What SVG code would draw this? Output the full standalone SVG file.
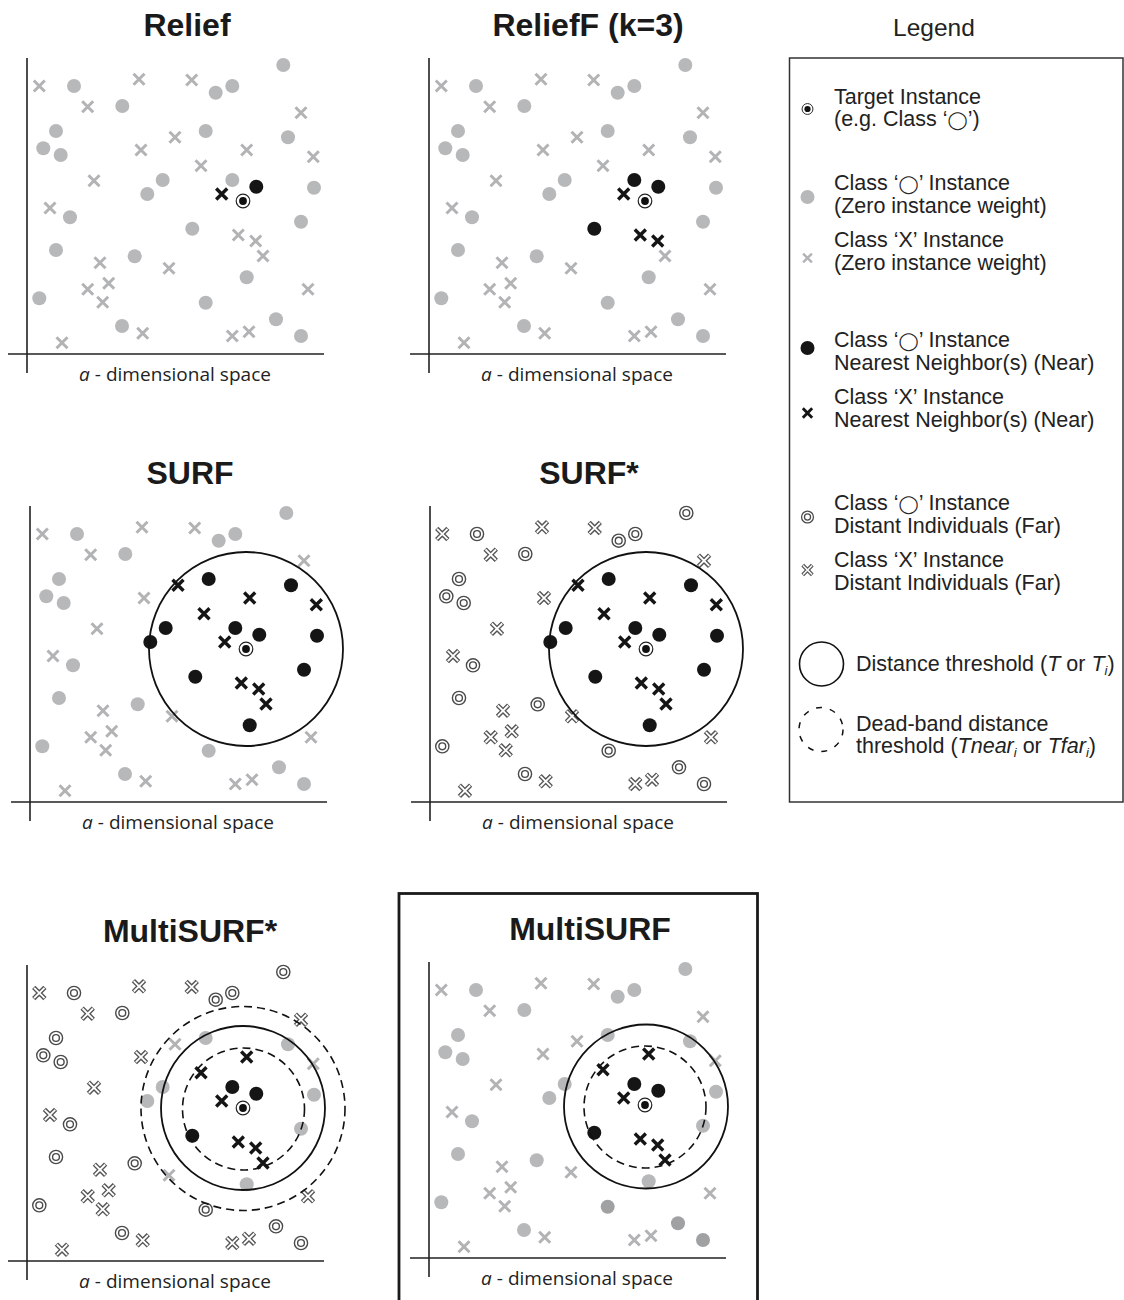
<svg xmlns="http://www.w3.org/2000/svg" xmlns:xlink="http://www.w3.org/1999/xlink" width="1124" height="1300" viewBox="0 0 1124 1300">
<style>
.title{font-family:"Liberation Sans",Arial,sans-serif;font-weight:bold;font-size:32px;text-anchor:middle;fill:#1a1a1a}
.axlab{font-family:"Open Sans","Noto Sans",sans-serif;font-size:19px;text-anchor:middle;fill:#222}
.leg{font-family:"Liberation Sans",Arial,"DejaVu Sans",sans-serif;font-size:21.5px;fill:#222}
.o{font-size:18px}
.legh{font-family:"Liberation Sans",Arial,sans-serif;font-size:24.5px;text-anchor:middle;fill:#222}
.axis{stroke:#222;stroke-width:1.6;fill:none}
.thr{fill:none;stroke:#111;stroke-width:1.8}
.dash{fill:none;stroke:#111;stroke-width:1.6;stroke-dasharray:8 5}
</style>
<defs>
<circle id="gc" r="7" fill="#b7b8b9"/>
<circle id="dc" r="7" fill="#a0a1a2"/>
<circle id="bc" r="7" fill="#151515"/>
<path id="gx" d="M-5.5,-5.5L5.5,5.5M5.5,-5.5L-5.5,5.5" stroke="#b2b3b4" stroke-width="3" fill="none"/>
<path id="bx" d="M-5.5,-5.5L5.5,5.5M5.5,-5.5L-5.5,5.5" stroke="#151515" stroke-width="3.4" fill="none"/>
<g id="fc"><circle r="6.6" fill="#fff" stroke="#4a4a4a" stroke-width="1.4"/><circle r="3.4" fill="none" stroke="#4a4a4a" stroke-width="1.4"/></g>
<g id="fx"><path d="M-5.6,-5.6L5.6,5.6M5.6,-5.6L-5.6,5.6" stroke="#555" stroke-width="4.6" fill="none"/><path d="M-5.2,-5.2L5.2,5.2M5.2,-5.2L-5.2,5.2" stroke="#fff" stroke-width="1.8" fill="none"/></g>
<g id="tg"><circle r="6.8" fill="#fff" stroke="#222" stroke-width="1.2"/><circle r="3.9" fill="#111"/></g>
<g id="axes"><path class="axis" d="M27,58V373M8,354H324"/><text class="axlab" x="175" y="381" textLength="192"><tspan font-style="italic">a</tspan> - dimensional space</text></g>
</defs>

<!-- Panel 1: Relief -->
<g id="relief">
<text class="title" x="187" y="36">Relief</text>
<g transform="translate(0,0)">
<use href="#axes"/>
<use href="#gc" x="283.3" y="65"/><use href="#gc" x="74" y="86"/><use href="#gc" x="215.7" y="92.7"/><use href="#gc" x="232.3" y="86"/><use href="#gc" x="122.3" y="106"/><use href="#gc" x="56" y="131"/><use href="#gc" x="43.3" y="148.3"/><use href="#gc" x="60.7" y="155"/><use href="#gc" x="205.7" y="131"/><use href="#gc" x="288" y="137.3"/><use href="#gc" x="162.7" y="180"/><use href="#gc" x="147.3" y="194"/><use href="#gc" x="232.3" y="180"/><use href="#gc" x="314" y="187.7"/><use href="#gc" x="70" y="217.3"/><use href="#gc" x="301" y="221.7"/><use href="#gc" x="192.3" y="228.7"/><use href="#gc" x="56" y="250"/><use href="#gc" x="134.7" y="256.3"/><use href="#gc" x="246.7" y="277.3"/><use href="#gc" x="39.3" y="298.3"/><use href="#gc" x="205.7" y="302.7"/><use href="#gc" x="276" y="319.3"/><use href="#gc" x="122" y="326"/><use href="#gc" x="301" y="336"/><use href="#bc" x="256.3" y="186.7"/>
<use href="#gx" x="39.3" y="86"/><use href="#gx" x="139" y="79.3"/><use href="#gx" x="191.7" y="80"/><use href="#gx" x="87.7" y="106.7"/><use href="#gx" x="301" y="112.7"/><use href="#gx" x="175" y="137.3"/><use href="#gx" x="141" y="150"/><use href="#gx" x="246.7" y="150"/><use href="#gx" x="313.3" y="156.7"/><use href="#gx" x="201" y="165.7"/><use href="#gx" x="94" y="180.7"/><use href="#gx" x="50" y="208"/><use href="#gx" x="238.3" y="235"/><use href="#gx" x="255.7" y="241"/><use href="#gx" x="263" y="256"/><use href="#gx" x="100" y="262.7"/><use href="#gx" x="169" y="268.3"/><use href="#gx" x="108.7" y="283.3"/><use href="#gx" x="87.7" y="289.3"/><use href="#gx" x="102.7" y="302.3"/><use href="#gx" x="308" y="289.3"/><use href="#gx" x="142.7" y="333.3"/><use href="#gx" x="232.3" y="336"/><use href="#gx" x="249" y="331.7"/><use href="#gx" x="62" y="342.7"/><use href="#bx" x="221.7" y="194"/>
<use href="#tg" x="243" y="201"/>
</g>
</g>

<!-- Panel 2: ReliefF -->
<g id="relieff">
<text class="title" x="588" y="36">ReliefF (k=3)</text>
<g transform="translate(402,0)">
<use href="#axes"/>
<use href="#gc" x="283.3" y="65"/><use href="#gc" x="74" y="86"/><use href="#gc" x="215.7" y="92.7"/><use href="#gc" x="232.3" y="86"/><use href="#gc" x="122.3" y="106"/><use href="#gc" x="56" y="131"/><use href="#gc" x="43.3" y="148.3"/><use href="#gc" x="60.7" y="155"/><use href="#gc" x="205.7" y="131"/><use href="#gc" x="288" y="137.3"/><use href="#gc" x="162.7" y="180"/><use href="#gc" x="147.3" y="194"/><use href="#bc" x="232.3" y="180"/><use href="#gc" x="314" y="187.7"/><use href="#gc" x="70" y="217.3"/><use href="#gc" x="301" y="221.7"/><use href="#bc" x="192.3" y="228.7"/><use href="#gc" x="56" y="250"/><use href="#gc" x="134.7" y="256.3"/><use href="#gc" x="246.7" y="277.3"/><use href="#gc" x="39.3" y="298.3"/><use href="#gc" x="205.7" y="302.7"/><use href="#gc" x="276" y="319.3"/><use href="#gc" x="122" y="326"/><use href="#gc" x="301" y="336"/><use href="#bc" x="256.3" y="186.7"/>
<use href="#gx" x="39.3" y="86"/><use href="#gx" x="139" y="79.3"/><use href="#gx" x="191.7" y="80"/><use href="#gx" x="87.7" y="106.7"/><use href="#gx" x="301" y="112.7"/><use href="#gx" x="175" y="137.3"/><use href="#gx" x="141" y="150"/><use href="#gx" x="246.7" y="150"/><use href="#gx" x="313.3" y="156.7"/><use href="#gx" x="201" y="165.7"/><use href="#gx" x="94" y="180.7"/><use href="#gx" x="50" y="208"/><use href="#bx" x="238.3" y="235"/><use href="#bx" x="255.7" y="241"/><use href="#gx" x="263" y="256"/><use href="#gx" x="100" y="262.7"/><use href="#gx" x="169" y="268.3"/><use href="#gx" x="108.7" y="283.3"/><use href="#gx" x="87.7" y="289.3"/><use href="#gx" x="102.7" y="302.3"/><use href="#gx" x="308" y="289.3"/><use href="#gx" x="142.7" y="333.3"/><use href="#gx" x="232.3" y="336"/><use href="#gx" x="249" y="331.7"/><use href="#gx" x="62" y="342.7"/><use href="#bx" x="221.7" y="194"/>
<use href="#tg" x="243" y="201"/>
</g>
</g>

<!-- Panel 3: SURF -->
<g id="surf">
<text class="title" x="190" y="484">SURF</text>
<g transform="translate(3,448)">
<use href="#axes"/>
<use href="#gc" x="283.3" y="65"/><use href="#gc" x="74" y="86"/><use href="#gc" x="215.7" y="92.7"/><use href="#gc" x="232.3" y="86"/><use href="#gc" x="122.3" y="106"/><use href="#gc" x="56" y="131"/><use href="#gc" x="43.3" y="148.3"/><use href="#gc" x="60.7" y="155"/><use href="#bc" x="205.7" y="131"/><use href="#bc" x="288" y="137.3"/><use href="#bc" x="162.7" y="180"/><use href="#bc" x="147.3" y="194"/><use href="#bc" x="232.3" y="180"/><use href="#bc" x="314" y="187.7"/><use href="#gc" x="70" y="217.3"/><use href="#bc" x="301" y="221.7"/><use href="#bc" x="192.3" y="228.7"/><use href="#gc" x="56" y="250"/><use href="#gc" x="134.7" y="256.3"/><use href="#bc" x="246.7" y="277.3"/><use href="#gc" x="39.3" y="298.3"/><use href="#gc" x="205.7" y="302.7"/><use href="#gc" x="276" y="319.3"/><use href="#gc" x="122" y="326"/><use href="#gc" x="301" y="336"/><use href="#bc" x="256.3" y="186.7"/>
<use href="#gx" x="39.3" y="86"/><use href="#gx" x="139" y="79.3"/><use href="#gx" x="191.7" y="80"/><use href="#gx" x="87.7" y="106.7"/><use href="#gx" x="301" y="112.7"/><use href="#bx" x="175" y="137.3"/><use href="#gx" x="141" y="150"/><use href="#bx" x="246.7" y="150"/><use href="#bx" x="313.3" y="156.7"/><use href="#bx" x="201" y="165.7"/><use href="#gx" x="94" y="180.7"/><use href="#gx" x="50" y="208"/><use href="#bx" x="238.3" y="235"/><use href="#bx" x="255.7" y="241"/><use href="#bx" x="263" y="256"/><use href="#gx" x="100" y="262.7"/><use href="#gx" x="169" y="268.3"/><use href="#gx" x="108.7" y="283.3"/><use href="#gx" x="87.7" y="289.3"/><use href="#gx" x="102.7" y="302.3"/><use href="#gx" x="308" y="289.3"/><use href="#gx" x="142.7" y="333.3"/><use href="#gx" x="232.3" y="336"/><use href="#gx" x="249" y="331.7"/><use href="#gx" x="62" y="342.7"/><use href="#bx" x="221.7" y="194"/>
<use href="#tg" x="243" y="201"/>
<circle class="thr" cx="243" cy="201" r="97"/>
</g>
</g>

<!-- Panel 4: SURF* -->
<g id="surf-star">
<text class="title" x="589" y="484">SURF*</text>
<g transform="translate(403,448)">
<use href="#axes"/>
<use href="#fc" x="283.3" y="65"/><use href="#fc" x="74" y="86"/><use href="#fc" x="215.7" y="92.7"/><use href="#fc" x="232.3" y="86"/><use href="#fc" x="122.3" y="106"/><use href="#fc" x="56" y="131"/><use href="#fc" x="43.3" y="148.3"/><use href="#fc" x="60.7" y="155"/><use href="#bc" x="205.7" y="131"/><use href="#bc" x="288" y="137.3"/><use href="#bc" x="162.7" y="180"/><use href="#bc" x="147.3" y="194"/><use href="#bc" x="232.3" y="180"/><use href="#bc" x="314" y="187.7"/><use href="#fc" x="70" y="217.3"/><use href="#bc" x="301" y="221.7"/><use href="#bc" x="192.3" y="228.7"/><use href="#fc" x="56" y="250"/><use href="#fc" x="134.7" y="256.3"/><use href="#bc" x="246.7" y="277.3"/><use href="#fc" x="39.3" y="298.3"/><use href="#fc" x="205.7" y="302.7"/><use href="#fc" x="276" y="319.3"/><use href="#fc" x="122" y="326"/><use href="#fc" x="301" y="336"/><use href="#bc" x="256.3" y="186.7"/>
<use href="#fx" x="39.3" y="86"/><use href="#fx" x="139" y="79.3"/><use href="#fx" x="191.7" y="80"/><use href="#fx" x="87.7" y="106.7"/><use href="#fx" x="301" y="112.7"/><use href="#bx" x="175" y="137.3"/><use href="#fx" x="141" y="150"/><use href="#bx" x="246.7" y="150"/><use href="#bx" x="313.3" y="156.7"/><use href="#bx" x="201" y="165.7"/><use href="#fx" x="94" y="180.7"/><use href="#fx" x="50" y="208"/><use href="#bx" x="238.3" y="235"/><use href="#bx" x="255.7" y="241"/><use href="#bx" x="263" y="256"/><use href="#fx" x="100" y="262.7"/><use href="#fx" x="169" y="268.3"/><use href="#fx" x="108.7" y="283.3"/><use href="#fx" x="87.7" y="289.3"/><use href="#fx" x="102.7" y="302.3"/><use href="#fx" x="308" y="289.3"/><use href="#fx" x="142.7" y="333.3"/><use href="#fx" x="232.3" y="336"/><use href="#fx" x="249" y="331.7"/><use href="#fx" x="62" y="342.7"/><use href="#bx" x="221.7" y="194"/>
<use href="#tg" x="243" y="201"/>
<circle class="thr" cx="243" cy="201" r="97"/>
</g>
</g>

<!-- Panel 5: MultiSURF* -->
<g id="multisurf-star">
<text class="title" x="190" y="942">MultiSURF*</text>
<g transform="translate(0,907)">
<use href="#axes"/>
<use href="#fc" x="283.3" y="65"/><use href="#fc" x="74" y="86"/><use href="#fc" x="215.7" y="92.7"/><use href="#fc" x="232.3" y="86"/><use href="#fc" x="122.3" y="106"/><use href="#fc" x="56" y="131"/><use href="#fc" x="43.3" y="148.3"/><use href="#fc" x="60.7" y="155"/><use href="#gc" x="205.7" y="131"/><use href="#gc" x="288" y="137.3"/><use href="#gc" x="162.7" y="180"/><use href="#gc" x="147.3" y="194"/><use href="#bc" x="232.3" y="180"/><use href="#gc" x="314" y="187.7"/><use href="#fc" x="70" y="217.3"/><use href="#gc" x="301" y="221.7"/><use href="#bc" x="192.3" y="228.7"/><use href="#fc" x="56" y="250"/><use href="#fc" x="134.7" y="256.3"/><use href="#gc" x="246.7" y="277.3"/><use href="#fc" x="39.3" y="298.3"/><use href="#fc" x="205.7" y="302.7"/><use href="#fc" x="276" y="319.3"/><use href="#fc" x="122" y="326"/><use href="#fc" x="301" y="336"/><use href="#bc" x="256.3" y="186.7"/>
<use href="#fx" x="39.3" y="86"/><use href="#fx" x="139" y="79.3"/><use href="#fx" x="191.7" y="80"/><use href="#fx" x="87.7" y="106.7"/><use href="#fx" x="301" y="112.7"/><use href="#gx" x="175" y="137.3"/><use href="#fx" x="141" y="150"/><use href="#bx" x="246.7" y="150"/><use href="#gx" x="313.3" y="156.7"/><use href="#bx" x="201" y="165.7"/><use href="#fx" x="94" y="180.7"/><use href="#fx" x="50" y="208"/><use href="#bx" x="238.3" y="235"/><use href="#bx" x="255.7" y="241"/><use href="#bx" x="263" y="256"/><use href="#fx" x="100" y="262.7"/><use href="#gx" x="169" y="268.3"/><use href="#fx" x="108.7" y="283.3"/><use href="#fx" x="87.7" y="289.3"/><use href="#fx" x="102.7" y="302.3"/><use href="#fx" x="308" y="289.3"/><use href="#fx" x="142.7" y="333.3"/><use href="#fx" x="232.3" y="336"/><use href="#fx" x="249" y="331.7"/><use href="#fx" x="62" y="342.7"/><use href="#bx" x="221.7" y="194"/>
<use href="#tg" x="243" y="201"/>
<circle class="dash" cx="243" cy="201.5" r="102"/>
<circle class="thr" cx="243" cy="201" r="82"/>
<circle class="dash" cx="243.5" cy="202" r="61"/>
</g>
</g>

<!-- Panel 6: MultiSURF (framed) -->
<g id="multisurf">
<rect x="399" y="893.5" width="358.5" height="420" fill="none" stroke="#1a1a1a" stroke-width="2.8"/>
<text class="title" x="590" y="940">MultiSURF</text>
<g transform="translate(402,904)">
<use href="#axes"/>
<use href="#gc" x="283.3" y="65"/><use href="#gc" x="74" y="86"/><use href="#gc" x="215.7" y="92.7"/><use href="#gc" x="232.3" y="86"/><use href="#gc" x="122.3" y="106"/><use href="#gc" x="56" y="131"/><use href="#gc" x="43.3" y="148.3"/><use href="#gc" x="60.7" y="155"/><use href="#gc" x="205.7" y="131"/><use href="#gc" x="288" y="137.3"/><use href="#gc" x="162.7" y="180"/><use href="#gc" x="147.3" y="194"/><use href="#bc" x="232.3" y="180"/><use href="#gc" x="314" y="187.7"/><use href="#gc" x="70" y="217.3"/><use href="#gc" x="301" y="221.7"/><use href="#bc" x="192.3" y="228.7"/><use href="#gc" x="56" y="250"/><use href="#gc" x="134.7" y="256.3"/><use href="#gc" x="246.7" y="277.3"/><use href="#gc" x="39.3" y="298.3"/><use href="#dc" x="205.7" y="302.7"/><use href="#dc" x="276" y="319.3"/><use href="#gc" x="122" y="326"/><use href="#dc" x="301" y="336"/><use href="#bc" x="256.3" y="186.7"/>
<use href="#gx" x="39.3" y="86"/><use href="#gx" x="139" y="79.3"/><use href="#gx" x="191.7" y="80"/><use href="#gx" x="87.7" y="106.7"/><use href="#gx" x="301" y="112.7"/><use href="#gx" x="175" y="137.3"/><use href="#gx" x="141" y="150"/><use href="#bx" x="246.7" y="150"/><use href="#gx" x="313.3" y="156.7"/><use href="#bx" x="201" y="165.7"/><use href="#gx" x="94" y="180.7"/><use href="#gx" x="50" y="208"/><use href="#bx" x="238.3" y="235"/><use href="#bx" x="255.7" y="241"/><use href="#bx" x="263" y="256"/><use href="#gx" x="100" y="262.7"/><use href="#gx" x="169" y="268.3"/><use href="#gx" x="108.7" y="283.3"/><use href="#gx" x="87.7" y="289.3"/><use href="#gx" x="102.7" y="302.3"/><use href="#gx" x="308" y="289.3"/><use href="#gx" x="142.7" y="333.3"/><use href="#gx" x="232.3" y="336"/><use href="#gx" x="249" y="331.7"/><use href="#gx" x="62" y="342.7"/><use href="#bx" x="221.7" y="194"/>
<use href="#tg" x="243" y="201"/>
<circle class="thr" cx="244" cy="202.5" r="82"/>
<circle class="dash" cx="243" cy="203" r="61"/>
</g>
</g>

<!-- Legend -->
<g id="legend">
<text class="legh" x="934" y="36">Legend</text>
<rect x="789.5" y="58" width="333.5" height="744" fill="none" stroke="#333" stroke-width="1.5"/>
<g id="leg-target"><use href="#tg" transform="translate(807.5,109) scale(0.8)"/>
<text class="leg" x="834" y="104">Target Instance</text><text class="leg" x="834" y="126">(e.g. Class ‘<tspan class="o">◯</tspan>’)</text></g>
<g id="leg-gray-o"><use href="#gc" transform="translate(807.5,197)"/>
<text class="leg" x="834" y="190">Class ‘<tspan class="o">◯</tspan>’ Instance</text><text class="leg" x="834" y="213">(Zero instance weight)</text></g>
<g id="leg-gray-x"><use href="#gx" transform="translate(807.5,258) scale(0.8)"/>
<text class="leg" x="834" y="247">Class ‘X’ Instance</text><text class="leg" x="834" y="270">(Zero instance weight)</text></g>
<g id="leg-near-o"><use href="#bc" transform="translate(807.5,348)"/>
<text class="leg" x="834" y="347">Class ‘<tspan class="o">◯</tspan>’ Instance</text><text class="leg" x="834" y="370">Nearest Neighbor(s) (Near)</text></g>
<g id="leg-near-x"><use href="#bx" transform="translate(807.5,413) scale(0.85)"/>
<text class="leg" x="834" y="404">Class ‘X’ Instance</text><text class="leg" x="834" y="427">Nearest Neighbor(s) (Near)</text></g>
<g id="leg-far-o"><use href="#fc" transform="translate(807.5,517) scale(0.9)"/>
<text class="leg" x="834" y="510">Class ‘<tspan class="o">◯</tspan>’ Instance</text><text class="leg" x="834" y="533">Distant Individuals (Far)</text></g>
<g id="leg-far-x"><use href="#fx" transform="translate(807.5,570) scale(0.85)"/>
<text class="leg" x="834" y="567">Class ‘X’ Instance</text><text class="leg" x="834" y="590">Distant Individuals (Far)</text></g>
<g id="leg-threshold"><circle cx="821.5" cy="664" r="22" fill="none" stroke="#111" stroke-width="1.6"/>
<text class="leg" x="856" y="671">Distance threshold (<tspan font-style="italic">T</tspan> or <tspan font-style="italic">T</tspan><tspan font-size="13" dy="4" font-style="italic">i</tspan><tspan dy="-4">)</tspan></text></g>
<g id="leg-deadband"><circle cx="821" cy="729.5" r="22" fill="none" stroke="#111" stroke-width="1.5" stroke-dasharray="6 8"/>
<text class="leg" x="856" y="731">Dead-band distance</text>
<text class="leg" x="856" y="753">threshold (<tspan font-style="italic">Tnear</tspan><tspan font-size="13" dy="4" font-style="italic">i</tspan><tspan dy="-4"> or </tspan><tspan font-style="italic">Tfar</tspan><tspan font-size="13" dy="4" font-style="italic">i</tspan><tspan dy="-4">)</tspan></text></g>
</g>
</svg>
